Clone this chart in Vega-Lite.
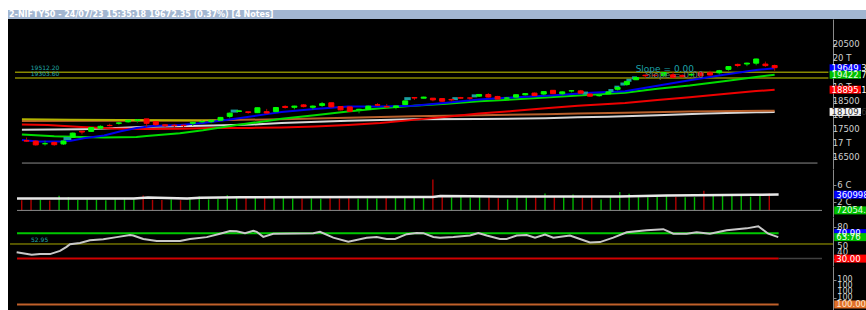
{
  "$schema": "https://vega.github.io/schema/vega-lite/v6.json",
  "background": "#ffffff",
  "padding": {"left": 8, "top": 10, "right": 0, "bottom": 0},
  "spacing": 0,
  "config": {
    "view": {"fill": "#000000", "stroke": null},
    "axis": {"grid": false, "domainColor": "#8a8a8a", "tickColor": "#8a8a8a", "tickSize": 3, "labels": false},
    "text": {"font": "DejaVu Sans"}
  },
  "datasets": {
    "daily": [
      {"i":0,"o":17097,"h":17205,"l":17045,"c":17077,"vol":24500000,"d":"d"},
      {"i":1,"o":17077,"h":17109,"l":16917,"c":16945,"vol":26000000,"d":"d"},
      {"i":2,"o":16985,"h":17091,"l":16919,"c":16986,"vol":25500000,"d":"u"},
      {"i":3,"o":17031,"h":17061,"l":16913,"c":16951,"vol":24000000,"d":"d"},
      {"i":4,"o":16977,"h":17126,"l":16940,"c":17081,"vol":35000000,"d":"u"},
      {"i":5,"o":17210,"h":17381,"l":17205,"c":17360,"vol":32000000,"d":"u"},
      {"i":6,"o":17428,"h":17428,"l":17313,"c":17398,"vol":25000000,"d":"u"},
      {"i":7,"o":17422,"h":17570,"l":17402,"c":17557,"vol":26500000,"d":"u"},
      {"i":8,"o":17533,"h":17638,"l":17503,"c":17599,"vol":25500000,"d":"u"},
      {"i":9,"o":17634,"h":17694,"l":17597,"c":17624,"vol":24500000,"d":"u"},
      {"i":10,"o":17705,"h":17749,"l":17655,"c":17722,"vol":26000000,"d":"u"},
      {"i":11,"o":17759,"h":17819,"l":17730,"c":17812,"vol":27000000,"d":"u"},
      {"i":12,"o":17807,"h":17842,"l":17729,"c":17828,"vol":26500000,"d":"u"},
      {"i":13,"o":17863,"h":17863,"l":17574,"c":17707,"vol":36000000,"d":"d"},
      {"i":14,"o":17767,"h":17767,"l":17610,"c":17660,"vol":25500000,"d":"d"},
      {"i":15,"o":17653,"h":17666,"l":17579,"c":17618,"vol":25000000,"d":"d"},
      {"i":16,"o":17638,"h":17684,"l":17553,"c":17624,"vol":26000000,"d":"u"},
      {"i":17,"o":17639,"h":17664,"l":17553,"c":17624,"vol":24500000,"d":"d"},
      {"i":18,"o":17707,"h":17754,"l":17612,"c":17743,"vol":27000000,"d":"u"},
      {"i":19,"o":17761,"h":17808,"l":17716,"c":17770,"vol":33500000,"d":"u"},
      {"i":20,"o":17767,"h":17827,"l":17711,"c":17813,"vol":26500000,"d":"u"},
      {"i":21,"o":17813,"h":17932,"l":17797,"c":17915,"vol":27500000,"d":"u"},
      {"i":22,"o":17950,"h":18089,"l":17885,"c":18065,"vol":36500000,"d":"u"},
      {"i":23,"o":18124,"h":18180,"l":18102,"c":18148,"vol":33500000,"d":"u"},
      {"i":24,"o":18113,"h":18117,"l":18042,"c":18090,"vol":31500000,"d":"d"},
      {"i":25,"o":18082,"h":18267,"l":18069,"c":18256,"vol":32000000,"d":"u"},
      {"i":26,"o":18117,"h":18216,"l":18055,"c":18069,"vol":31000000,"d":"d"},
      {"i":27,"o":18120,"h":18286,"l":18100,"c":18264,"vol":32000000,"d":"u"},
      {"i":28,"o":18303,"h":18344,"l":18228,"c":18266,"vol":34500000,"d":"u"},
      {"i":29,"o":18273,"h":18330,"l":18200,"c":18315,"vol":29000000,"d":"u"},
      {"i":30,"o":18357,"h":18389,"l":18270,"c":18297,"vol":28500000,"d":"d"},
      {"i":31,"o":18273,"h":18342,"l":18195,"c":18315,"vol":29000000,"d":"u"},
      {"i":32,"o":18339,"h":18458,"l":18287,"c":18399,"vol":28000000,"d":"u"},
      {"i":33,"o":18432,"h":18432,"l":18264,"c":18287,"vol":29500000,"d":"d"},
      {"i":34,"o":18300,"h":18309,"l":18162,"c":18181,"vol":28500000,"d":"d"},
      {"i":35,"o":18287,"h":18297,"l":18104,"c":18129,"vol":29000000,"d":"d"},
      {"i":36,"o":18187,"h":18218,"l":18060,"c":18203,"vol":28000000,"d":"u"},
      {"i":37,"o":18201,"h":18335,"l":18194,"c":18314,"vol":29000000,"d":"u"},
      {"i":38,"o":18362,"h":18419,"l":18324,"c":18348,"vol":28500000,"d":"u"},
      {"i":39,"o":18295,"h":18392,"l":18262,"c":18285,"vol":31500000,"d":"d"},
      {"i":40,"o":18268,"h":18338,"l":18202,"c":18321,"vol":32000000,"d":"u"},
      {"i":41,"o":18369,"h":18508,"l":18347,"c":18499,"vol":31500000,"d":"u"},
      {"i":42,"o":18619,"h":18621,"l":18530,"c":18599,"vol":31000000,"d":"u"},
      {"i":43,"o":18594,"h":18648,"l":18586,"c":18633,"vol":32000000,"d":"u"},
      {"i":44,"o":18594,"h":18603,"l":18483,"c":18534,"vol":74300000,"d":"d"},
      {"i":45,"o":18580,"h":18580,"l":18464,"c":18487,"vol":32000000,"d":"d"},
      {"i":46,"o":18551,"h":18573,"l":18478,"c":18534,"vol":31500000,"d":"u"},
      {"i":47,"o":18612,"h":18640,"l":18582,"c":18594,"vol":32000000,"d":"u"},
      {"i":48,"o":18600,"h":18622,"l":18531,"c":18599,"vol":31000000,"d":"u"},
      {"i":49,"o":18665,"h":18738,"l":18636,"c":18726,"vol":32000000,"d":"u"},
      {"i":50,"o":18725,"h":18778,"l":18615,"c":18635,"vol":31500000,"d":"d"},
      {"i":51,"o":18655,"h":18676,"l":18555,"c":18563,"vol":29000000,"d":"d"},
      {"i":52,"o":18596,"h":18633,"l":18559,"c":18602,"vol":26500000,"d":"u"},
      {"i":53,"o":18631,"h":18728,"l":18623,"c":18716,"vol":32000000,"d":"u"},
      {"i":54,"o":18713,"h":18769,"l":18690,"c":18756,"vol":31500000,"d":"u"},
      {"i":55,"o":18774,"h":18794,"l":18669,"c":18688,"vol":35000000,"d":"d"},
      {"i":56,"o":18741,"h":18840,"l":18690,"c":18826,"vol":41000000,"d":"u"},
      {"i":57,"o":18873,"h":18882,"l":18740,"c":18755,"vol":34500000,"d":"d"},
      {"i":58,"o":18752,"h":18839,"l":18696,"c":18817,"vol":32000000,"d":"u"},
      {"i":59,"o":18849,"h":18876,"l":18794,"c":18857,"vol":38000000,"d":"u"},
      {"i":60,"o":18853,"h":18886,"l":18759,"c":18771,"vol":31500000,"d":"d"},
      {"i":61,"o":18742,"h":18756,"l":18647,"c":18665,"vol":32000000,"d":"d"},
      {"i":62,"o":18682,"h":18722,"l":18646,"c":18691,"vol":26500000,"d":"u"},
      {"i":63,"o":18748,"h":18829,"l":18714,"c":18817,"vol":32000000,"d":"u"},
      {"i":64,"o":18908,"h":18974,"l":18861,"c":18972,"vol":44500000,"d":"u"},
      {"i":65,"o":19076,"h":19201,"l":19025,"c":19189,"vol":40000000,"d":"u"},
      {"i":66,"o":19246,"h":19345,"l":19234,"c":19322,"vol":32000000,"d":"u"},
      {"i":67,"o":19406,"h":19434,"l":19300,"c":19389,"vol":31500000,"d":"u"},
      {"i":68,"o":19405,"h":19434,"l":19346,"c":19398,"vol":32000000,"d":"u"},
      {"i":69,"o":19385,"h":19507,"l":19374,"c":19497,"vol":35000000,"d":"u"},
      {"i":70,"o":19422,"h":19524,"l":19300,"c":19332,"vol":32000000,"d":"d"},
      {"i":71,"o":19400,"h":19435,"l":19327,"c":19355,"vol":31500000,"d":"u"},
      {"i":72,"o":19414,"h":19472,"l":19361,"c":19439,"vol":32000000,"d":"u"},
      {"i":73,"o":19497,"h":19507,"l":19361,"c":19384,"vol":47500000,"d":"d"},
      {"i":74,"o":19495,"h":19567,"l":19385,"c":19413,"vol":39500000,"d":"u"},
      {"i":75,"o":19493,"h":19595,"l":19431,"c":19564,"vol":38000000,"d":"u"},
      {"i":76,"o":19612,"h":19731,"l":19562,"c":19711,"vol":38000000,"d":"u"},
      {"i":77,"o":19787,"h":19819,"l":19690,"c":19749,"vol":35000000,"d":"u"},
      {"i":78,"o":19802,"h":19851,"l":19727,"c":19833,"vol":33000000,"d":"u"},
      {"i":79,"o":19831,"h":19991,"l":19758,"c":19979,"vol":35000000,"d":"u"},
      {"i":80,"o":19800,"h":19887,"l":19700,"c":19745,"vol":41000000,"d":"d"},
      {"i":81,"o":19748,"h":19782,"l":19563,"c":19672,"vol":72054,"d":"d"}
    ],
    "ma": [
      {"s":"ma1","i":-0.5,"v":17116},{"s":"ma1","i":1.2,"v":17060},{"s":"ma1","i":3.6,"v":17060},{"s":"ma1","i":4.8,"v":17093},{"s":"ma1","i":6.2,"v":17175},{"s":"ma1","i":8.4,"v":17274},{"s":"ma1","i":10.2,"v":17423},{"s":"ma1","i":11.9,"v":17538},{"s":"ma1","i":13.7,"v":17611},{"s":"ma1","i":16.6,"v":17644},{"s":"ma1","i":19.1,"v":17719},{"s":"ma1","i":22.6,"v":17868},{"s":"ma1","i":26.2,"v":18040},{"s":"ma1","i":27.6,"v":18105},{"s":"ma1","i":31.2,"v":18214},{"s":"ma1","i":34.8,"v":18303},{"s":"ma1","i":38.3,"v":18303},{"s":"ma1","i":41.9,"v":18323},{"s":"ma1","i":45.5,"v":18435},{"s":"ma1","i":49.0,"v":18544},{"s":"ma1","i":52.6,"v":18620},{"s":"ma1","i":56.2,"v":18676},{"s":"ma1","i":57.6,"v":18709},{"s":"ma1","i":61.1,"v":18785},{"s":"ma1","i":64.8,"v":18841},{"s":"ma1","i":68.3,"v":19030},{"s":"ma1","i":71.8,"v":19225},{"s":"ma1","i":75.5,"v":19425},{"s":"ma1","i":79.0,"v":19590},{"s":"ma1","i":81,"v":19649},
      {"s":"ma2","i":-0.5,"v":17314},{"s":"ma2","i":3.0,"v":17248},{"s":"ma2","i":5.9,"v":17225},{"s":"ma2","i":8.4,"v":17202},{"s":"ma2","i":11.9,"v":17225},{"s":"ma2","i":13.0,"v":17260},{"s":"ma2","i":16.6,"v":17357},{"s":"ma2","i":19.1,"v":17460},{"s":"ma2","i":22.6,"v":17640},{"s":"ma2","i":26.2,"v":17800},{"s":"ma2","i":27.6,"v":17870},{"s":"ma2","i":31.2,"v":17993},{"s":"ma2","i":34.8,"v":18125},{"s":"ma2","i":38.3,"v":18237},{"s":"ma2","i":41.9,"v":18323},{"s":"ma2","i":45.5,"v":18402},{"s":"ma2","i":49.0,"v":18488},{"s":"ma2","i":52.6,"v":18544},{"s":"ma2","i":56.2,"v":18620},{"s":"ma2","i":59.7,"v":18686},{"s":"ma2","i":64.8,"v":18790},{"s":"ma2","i":68.3,"v":18930},{"s":"ma2","i":71.8,"v":19040},{"s":"ma2","i":75.5,"v":19190},{"s":"ma2","i":79.0,"v":19340},{"s":"ma2","i":81,"v":19423},
      {"s":"ma3","i":-0.5,"v":17663},{"s":"ma3","i":2.3,"v":17644},{"s":"ma3","i":5.9,"v":17580},{"s":"ma3","i":9.4,"v":17525},{"s":"ma3","i":13.0,"v":17505},{"s":"ma3","i":16.6,"v":17515},{"s":"ma3","i":20.2,"v":17540},{"s":"ma3","i":24.4,"v":17545},{"s":"ma3","i":27.6,"v":17560},{"s":"ma3","i":31.2,"v":17590},{"s":"ma3","i":34.8,"v":17644},{"s":"ma3","i":38.3,"v":17719},{"s":"ma3","i":41.9,"v":17828},{"s":"ma3","i":45.5,"v":17940},{"s":"ma3","i":49.0,"v":18049},{"s":"ma3","i":52.6,"v":18138},{"s":"ma3","i":56.2,"v":18237},{"s":"ma3","i":59.7,"v":18323},{"s":"ma3","i":64.8,"v":18420},{"s":"ma3","i":68.3,"v":18530},{"s":"ma3","i":71.8,"v":18630},{"s":"ma3","i":75.5,"v":18740},{"s":"ma3","i":79.0,"v":18845},{"s":"ma3","i":81,"v":18895},
      {"s":"ma4","i":-0.5,"v":17479},{"s":"ma4","i":5.9,"v":17499},{"s":"ma4","i":8.4,"v":17522},{"s":"ma4","i":13.0,"v":17588},{"s":"ma4","i":16.6,"v":17600},{"s":"ma4","i":20.2,"v":17630},{"s":"ma4","i":24.4,"v":17663},{"s":"ma4","i":27.6,"v":17719},{"s":"ma4","i":34.8,"v":17795},{"s":"ma4","i":41.9,"v":17851},{"s":"ma4","i":49.0,"v":17861},{"s":"ma4","i":56.2,"v":17884},{"s":"ma4","i":59.7,"v":17917},{"s":"ma4","i":62.9,"v":17940},{"s":"ma4","i":68.3,"v":17993},{"s":"ma4","i":73.6,"v":18049},{"s":"ma4","i":79.0,"v":18095},{"s":"ma4","i":81,"v":18110},
      {"s":"ma5","i":-0.5,"v":17790},{"s":"ma5","i":10,"v":17795},{"s":"ma5","i":19.1,"v":17808},{"s":"ma5","i":27.6,"v":17851},{"s":"ma5","i":34.8,"v":17907},{"s":"ma5","i":41.9,"v":17960},{"s":"ma5","i":49.0,"v":17993},{"s":"ma5","i":56.2,"v":18026},{"s":"ma5","i":59.7,"v":18049},{"s":"ma5","i":64.8,"v":18082},{"s":"ma5","i":71.8,"v":18125},{"s":"ma5","i":81,"v":18150},
      {"s":"ma6","i":-0.5,"v":17851},{"s":"ma6","i":4.8,"v":17830},{"s":"ma6","i":15.5,"v":17818},{"s":"ma6","i":20.5,"v":17805}
    ],
    "cyan": [
      {"a":4.0,"b":4.85,"v":17169},{"a":22.1,"b":22.9,"v":18138},{"a":40.9,"b":41.6,"v":18577},{"a":46.1,"b":46.7,"v":18577},{"a":48.2,"b":48.8,"v":18676},{"a":60.2,"b":60.8,"v":18775},{"a":63.0,"b":63.55,"v":18864},{"a":63.65,"b":64.2,"v":18983},{"a":64.3,"b":64.85,"v":19095},{"a":64.95,"b":65.5,"v":19227},{"a":65.55,"b":66.1,"v":19312}
    ],
    "vma": [
      {"i":-0.5,"v":28600000},{"i":12,"v":28600000},{"i":13.5,"v":31000000},{"i":17.7,"v":28600000},{"i":19.1,"v":30500000},{"i":23.4,"v":31800000},{"i":39.4,"v":32400000},{"i":44,"v":32400000},{"i":44.8,"v":34900000},{"i":51.2,"v":33700000},{"i":64,"v":33700000},{"i":69,"v":36000000},{"i":78.3,"v":37500000},{"i":81,"v":38000000}
    ],
    "rsi": [
      {"i":-0.54,"r":40},{"i":1.07,"r":35.9},{"i":1.96,"r":37.1},{"i":3.03,"r":37.1},{"i":4.1,"r":42.1},{"i":4.8,"r":48.4},{"i":5.17,"r":52.5},{"i":6.24,"r":54.6},{"i":7.3,"r":58.75},{"i":8.73,"r":60.4},{"i":10.17,"r":63.75},{"i":11.59,"r":67.1},{"i":11.94,"r":66.25},{"i":13.01,"r":60.9},{"i":14.45,"r":57.5},{"i":16.94,"r":57.5},{"i":18.01,"r":60.9},{"i":19.8,"r":63.75},{"i":21.22,"r":69.1},{"i":22.29,"r":73.4},{"i":23.0,"r":72.9},{"i":23.9,"r":70},{"i":24.78,"r":73.75},{"i":25.15,"r":72.1},{"i":25.85,"r":64.1},{"i":26.92,"r":69.1},{"i":31.2,"r":70},{"i":31.92,"r":72.1},{"i":33.34,"r":62.9},{"i":34.95,"r":56.6},{"i":36.92,"r":62.9},{"i":37.99,"r":64.1},{"i":39.06,"r":60.9},{"i":39.95,"r":60.9},{"i":41.2,"r":68.4},{"i":42.27,"r":70.4},{"i":42.97,"r":70},{"i":44.05,"r":64.1},{"i":44.76,"r":62.9},{"i":46.19,"r":64.1},{"i":47.97,"r":66.25},{"i":48.86,"r":70},{"i":49.76,"r":66.25},{"i":51.18,"r":60.9},{"i":51.9,"r":60.9},{"i":52.97,"r":66.25},{"i":54.04,"r":67.1},{"i":54.93,"r":62.9},{"i":56.0,"r":67.9},{"i":56.89,"r":62.9},{"i":58.67,"r":66.25},{"i":59.74,"r":60.9},{"i":60.81,"r":55.4},{"i":61.88,"r":55.9},{"i":63.31,"r":62.9},{"i":64.74,"r":71.25},{"i":66.88,"r":74.6},{"i":68.66,"r":76.25},{"i":69.73,"r":69.1},{"i":71.16,"r":69.1},{"i":72.23,"r":71.25},{"i":73.65,"r":69.1},{"i":75.44,"r":74.6},{"i":77.58,"r":77.5},{"i":78.82,"r":80.9},{"i":79.89,"r":69.1},{"i":80.96,"r":63.76}
    ]
  },
  "vconcat": [
    {
      "width": 858, "height": 9,
      "view": {"fill": "#a2b6d1", "stroke": null},
      "data": {"values": [{"t": "2-NIFTY50 - 24/07/23 15:35:18 19672.35 (0.37%) [4 Notes]"}]},
      "mark": {"type": "text", "align": "left", "baseline": "middle", "color": "#ffffff", "fontSize": 8, "fontWeight": "bold", "dx": 1},
      "encoding": {
        "x": {"datum": 0, "type": "quantitative", "scale": {"domain": [0, 858], "nice": false, "zero": false}, "axis": null},
        "y": {"datum": 0.5, "type": "quantitative", "scale": {"domain": [0, 1], "nice": false, "zero": false}, "axis": null},
        "text": {"field": "t"}
      }
    },
    {
      "width": 858, "height": 150,
      "layer": [
        {
          "data": {"values": [{"v": 19512.2}, {"v": 19303.6}]},
          "mark": {"type": "rule", "color": "#8a8a00", "strokeWidth": 1.5},
          "encoding": {
            "x": {"datum": -1.25, "type": "quantitative", "scale": {"domain": [-1.466, 90.35], "nice": false, "zero": false}, "axis": null},
            "x2": {"datum": 86.82},
            "y": {"field": "v", "type": "quantitative", "title": null, "scale": {"domain": [16268.7, 21215.7], "nice": false, "zero": false},
                  "axis": {"orient": "right", "offset": -33, "labels": false, "values": [16500, 17000, 17500, 18000, 18500, 19000, 19500, 20000, 20500]}}
          }
        },
        {
          "data": {"name": "ma"}, "transform": [{"filter": "datum.s == 'ma4'"}],
          "mark": {"type": "line", "color": "#d8d8d8", "strokeWidth": 2},
          "encoding": {"x": {"field": "i", "type": "quantitative", "axis": null}, "y": {"field": "v", "type": "quantitative", "title": null}}
        },
        {
          "data": {"name": "ma"}, "transform": [{"filter": "datum.s == 'ma5'"}],
          "mark": {"type": "line", "color": "#b8602c", "strokeWidth": 2},
          "encoding": {"x": {"field": "i", "type": "quantitative", "axis": null}, "y": {"field": "v", "type": "quantitative", "title": null}}
        },
        {
          "data": {"name": "ma"}, "transform": [{"filter": "datum.s == 'ma6'"}],
          "mark": {"type": "line", "color": "#b4b400", "strokeWidth": 2},
          "encoding": {"x": {"field": "i", "type": "quantitative", "axis": null}, "y": {"field": "v", "type": "quantitative", "title": null}}
        },
        {
          "data": {"name": "ma"}, "transform": [{"filter": "datum.s == 'ma3'"}],
          "mark": {"type": "line", "color": "#ee0000", "strokeWidth": 2},
          "encoding": {"x": {"field": "i", "type": "quantitative", "axis": null}, "y": {"field": "v", "type": "quantitative", "title": null}}
        },
        {
          "data": {"name": "ma"}, "transform": [{"filter": "datum.s == 'ma2'"}],
          "mark": {"type": "line", "color": "#00dd00", "strokeWidth": 2},
          "encoding": {"x": {"field": "i", "type": "quantitative", "axis": null}, "y": {"field": "v", "type": "quantitative", "title": null}}
        },
        {
          "data": {"name": "ma"}, "transform": [{"filter": "datum.s == 'ma1'"}],
          "mark": {"type": "line", "color": "#0000ee", "strokeWidth": 2},
          "encoding": {"x": {"field": "i", "type": "quantitative", "axis": null}, "y": {"field": "v", "type": "quantitative", "title": null}}
        },
        {
          "data": {"name": "cyan"},
          "mark": {"type": "rule", "color": "#1aa0a0", "strokeWidth": 3},
          "encoding": {"x": {"field": "a", "type": "quantitative", "axis": null}, "x2": {"field": "b"}, "y": {"field": "v", "type": "quantitative", "title": null}}
        },
        {
          "data": {"name": "daily"},
          "mark": {"type": "rule", "strokeWidth": 1},
          "encoding": {
            "x": {"field": "i", "type": "quantitative", "axis": null},
            "y": {"field": "l", "type": "quantitative", "title": null},
            "y2": {"field": "h"},
            "color": {"condition": {"test": "datum.c >= datum.o", "value": "#00a800"}, "value": "#b00000"}
          }
        },
        {
          "data": {"name": "daily"},
          "mark": {"type": "bar", "size": 5, "strokeWidth": 1},
          "encoding": {
            "x": {"field": "i", "type": "quantitative", "axis": null},
            "y": {"field": "o", "type": "quantitative", "title": null},
            "y2": {"field": "c"},
            "fill": {"condition": {"test": "datum.c >= datum.o", "value": "#00ff00"}, "value": "#ff0000"},
            "stroke": {"condition": {"test": "datum.c >= datum.o", "value": "#00ff00"}, "value": "#ff0000"}
          }
        },
        {
          "data": {"values": [{"v": 16302}]},
          "mark": {"type": "rule", "color": "#8a8a8a", "strokeWidth": 1},
          "encoding": {"x": {"datum": -0.5, "type": "quantitative", "axis": null}, "x2": {"datum": 85.64}, "y": {"field": "v", "type": "quantitative", "title": null}}
        },
        {
          "data": {"values": [{"t": "19512.20", "i": 0.46, "v": 19675}, {"t": "19303.60", "i": 0.46, "v": 19458}]},
          "mark": {"type": "text", "align": "left", "baseline": "middle", "fontSize": 6, "color": "#20a8a8"},
          "encoding": {"x": {"field": "i", "type": "quantitative", "axis": null}, "y": {"field": "v", "type": "quantitative", "title": null}, "text": {"field": "t"}}
        },
        {
          "data": {"values": [{"t": "Slope = 0.00", "i": 65.95, "v": 19642}]},
          "mark": {"type": "text", "align": "left", "baseline": "middle", "fontSize": 9, "color": "#1ca0a8"},
          "encoding": {"x": {"field": "i", "type": "quantitative", "axis": null}, "y": {"field": "v", "type": "quantitative", "title": null}, "text": {"field": "t"}}
        },
        {
          "data": {"values": [{"t": "Slope = 0.00", "i": 67.0, "v": 19425}]},
          "mark": {"type": "text", "align": "left", "baseline": "middle", "fontSize": 9, "color": "#5a7474"},
          "encoding": {"x": {"field": "i", "type": "quantitative", "axis": null}, "y": {"field": "v", "type": "quantitative", "title": null}, "text": {"field": "t"}}
        },
        {
          "data": {"values": [{"v": 20500, "t": "20500"}, {"v": 20000, "t": "20 T"}, {"v": 19000, "t": "19 T"}, {"v": 18500, "t": "18500"}, {"v": 18000, "t": "18 T"}, {"v": 17500, "t": "17500"}, {"v": 17000, "t": "17 T"}, {"v": 16500, "t": "16500"}]},
          "mark": {"type": "text", "align": "left", "baseline": "middle", "fontSize": 8.5, "color": "#d0d0d0", "clip": true},
          "encoding": {"x": {"datum": 87.28, "type": "quantitative", "axis": null}, "y": {"field": "v", "type": "quantitative", "title": null}, "text": {"field": "t"}}
        },
        {
          "data": {"values": [{"s": "a", "v": 19649.35, "t": "19649.35"}, {"s": "b", "v": 19422.75, "t": "19422.75"}, {"s": "c", "v": 18895.1, "t": "18895.10"}, {"s": "d", "v": 18109.6, "t": "18109.60"}]},
          "layer": [
            {
              "mark": {"type": "bar", "orient": "horizontal", "size": 8, "clip": true},
              "encoding": {
                "x": {"datum": 86.95, "type": "quantitative", "axis": null}, "x2": {"datum": 90.35},
                "y": {"field": "v", "type": "quantitative", "title": null},
                "fill": {"field": "s", "type": "nominal", "scale": {"domain": ["a", "b", "c", "d"], "range": ["#0000ff", "#00c000", "#ff0000", "#f4f4f4"]}, "legend": null}
              }
            },
            {
              "mark": {"type": "text", "align": "left", "baseline": "middle", "fontSize": 8.5, "dx": 2, "clip": true},
              "encoding": {
                "x": {"datum": 86.95, "type": "quantitative", "axis": null},
                "y": {"field": "v", "type": "quantitative", "title": null},
                "text": {"field": "t"},
                "color": {"field": "s", "type": "nominal", "scale": {"domain": ["a", "b", "c", "d"], "range": ["#ffffff", "#e8ffe8", "#ffffff", "#303030"]}, "legend": null}
              }
            }
          ]
        }
      ]
    },
    {
      "width": 858, "height": 48,
      "layer": [
        {
          "data": {"name": "daily"},
          "mark": {"type": "rule", "strokeWidth": 1.4},
          "encoding": {
            "x": {"field": "i", "type": "quantitative", "scale": {"domain": [-1.466, 90.35], "nice": false, "zero": false}, "axis": null},
            "y": {"field": "vol", "type": "quantitative", "title": null, "scale": {"domain": [-3810000, 87620000], "nice": false, "zero": false},
                  "axis": {"orient": "right", "offset": -33, "labels": false, "values": [20000000, 40000000, 60000000]}},
            "y2": {"datum": 0},
            "color": {"condition": {"test": "datum.d == 'u'", "value": "#00b400"}, "value": "#b00000"}
          }
        },
        {
          "data": {"values": [{"v": 0}]},
          "mark": {"type": "rule", "color": "#8a8a8a", "strokeWidth": 1},
          "encoding": {"x": {"datum": -0.5, "type": "quantitative", "axis": null}, "x2": {"datum": 85.64}, "y": {"field": "v", "type": "quantitative", "title": null}}
        },
        {
          "data": {"name": "vma"},
          "mark": {"type": "line", "color": "#e8e8e8", "strokeWidth": 2.5},
          "encoding": {"x": {"field": "i", "type": "quantitative", "axis": null}, "y": {"field": "v", "type": "quantitative", "title": null}}
        },
        {
          "data": {"values": [{"v": 60000000, "t": "6 C"}, {"v": 20000000, "t": "2 C"}]},
          "mark": {"type": "text", "align": "left", "baseline": "middle", "fontSize": 8.5, "color": "#d0d0d0", "clip": true},
          "encoding": {"x": {"datum": 87.28, "type": "quantitative", "axis": null}, "y": {"field": "v", "type": "quantitative", "title": null}, "text": {"field": "t"}}
        },
        {
          "data": {"values": [{"s": "a", "v": 38000000, "t": "36099860"}, {"s": "b", "v": 72054, "t": "72054.00"}]},
          "layer": [
            {
              "mark": {"type": "bar", "orient": "horizontal", "size": 8, "clip": true},
              "encoding": {
                "x": {"datum": 86.95, "type": "quantitative", "axis": null}, "x2": {"datum": 90.35},
                "y": {"field": "v", "type": "quantitative", "title": null},
                "fill": {"field": "s", "type": "nominal", "scale": {"domain": ["a", "b"], "range": ["#f4f4f4", "#00c000"]}, "legend": null}
              }
            },
            {
              "mark": {"type": "text", "align": "left", "baseline": "middle", "fontSize": 8.5, "dx": 2, "clip": true},
              "encoding": {
                "x": {"datum": 86.95, "type": "quantitative", "axis": null},
                "y": {"field": "v", "type": "quantitative", "title": null},
                "text": {"field": "t"},
                "color": {"field": "s", "type": "nominal", "scale": {"domain": ["a", "b"], "range": ["#303030", "#e8ffe8"]}, "legend": null}
              }
            }
          ]
        }
      ]
    },
    {
      "width": 858, "height": 49,
      "layer": [
        {
          "data": {"values": [{"v": 52.95}]},
          "mark": {"type": "rule", "color": "#a8a800", "strokeWidth": 1},
          "encoding": {
            "x": {"datum": -1.25, "type": "quantitative", "scale": {"domain": [-1.466, 90.35], "nice": false, "zero": false}, "axis": null},
            "x2": {"datum": 86.82},
            "y": {"field": "v", "type": "quantitative", "title": null, "scale": {"domain": [26.25, 87.5], "nice": false, "zero": false},
                  "axis": {"orient": "right", "offset": -33, "labels": false, "values": [30, 40, 50, 60, 70, 80]}}
          }
        },
        {
          "data": {"values": [{"v": 30}]},
          "mark": {"type": "rule", "color": "#404040", "strokeWidth": 1.5},
          "encoding": {"x": {"datum": 81, "type": "quantitative", "axis": null}, "x2": {"datum": 85.64}, "y": {"field": "v", "type": "quantitative", "title": null}}
        },
        {
          "data": {"values": [{"v": 70, "k": "hi"}, {"v": 30, "k": "lo"}]},
          "mark": {"type": "rule", "strokeWidth": 2},
          "encoding": {
            "x": {"datum": -0.5, "type": "quantitative", "axis": null}, "x2": {"datum": 81},
            "y": {"field": "v", "type": "quantitative", "title": null},
            "color": {"condition": {"test": "datum.k == 'hi'", "value": "#00c800"}, "value": "#d00000"}
          }
        },
        {
          "data": {"name": "rsi"},
          "mark": {"type": "line", "color": "#c8c8c8", "strokeWidth": 2},
          "encoding": {"x": {"field": "i", "type": "quantitative", "axis": null}, "y": {"field": "r", "type": "quantitative", "title": null}}
        },
        {
          "data": {"values": [{"t": "52.95", "i": 1.0, "v": 59.1}]},
          "mark": {"type": "text", "align": "left", "baseline": "middle", "fontSize": 6, "color": "#20a8a8"},
          "encoding": {"x": {"field": "i", "type": "quantitative", "axis": null}, "y": {"field": "v", "type": "quantitative", "title": null}, "text": {"field": "t"}}
        },
        {
          "data": {"values": [{"v": 80, "t": "80"}, {"v": 50, "t": "50"}, {"v": 40, "t": "40"}]},
          "mark": {"type": "text", "align": "left", "baseline": "middle", "fontSize": 8.5, "color": "#d0d0d0", "clip": true},
          "encoding": {"x": {"datum": 87.28, "type": "quantitative", "axis": null}, "y": {"field": "v", "type": "quantitative", "title": null}, "text": {"field": "t"}}
        },
        {
          "data": {"values": [{"s": "a", "v": 70, "t": "70.00"}, {"s": "b", "v": 63.76, "t": "63.76"}, {"s": "c", "v": 30, "t": "30.00"}]},
          "layer": [
            {
              "mark": {"type": "bar", "orient": "horizontal", "size": 8, "clip": true},
              "encoding": {
                "x": {"datum": 86.95, "type": "quantitative", "axis": null}, "x2": {"datum": 90.35},
                "y": {"field": "v", "type": "quantitative", "title": null},
                "fill": {"field": "s", "type": "nominal", "scale": {"domain": ["a", "b", "c"], "range": ["#00c000", "#f4f4f4", "#ff0000"]}, "legend": null}
              }
            },
            {
              "mark": {"type": "text", "align": "left", "baseline": "middle", "fontSize": 8.5, "dx": 2, "clip": true},
              "encoding": {
                "x": {"datum": 86.95, "type": "quantitative", "axis": null},
                "y": {"field": "v", "type": "quantitative", "title": null},
                "text": {"field": "t"},
                "color": {"field": "s", "type": "nominal", "scale": {"domain": ["a", "b", "c"], "range": ["#e8ffe8", "#707070", "#ffffff"]}, "legend": null}
              }
            }
          ]
        }
      ]
    },
    {
      "width": 858, "height": 44,
      "layer": [
        {
          "data": {"values": [{"v": 100}]},
          "mark": {"type": "rule", "color": "#c0602a", "strokeWidth": 2},
          "encoding": {
            "x": {"datum": -0.5, "type": "quantitative", "scale": {"domain": [-1.466, 90.35], "nice": false, "zero": false}, "axis": null},
            "x2": {"datum": 81},
            "y": {"field": "v", "type": "quantitative", "title": null, "scale": {"domain": [99.989, 100.698], "nice": false, "zero": false},
                  "axis": {"orient": "right", "offset": -33, "labels": false, "values": [100.125, 100.25, 100.375, 100.5]}}
          }
        },
        {
          "data": {"values": [{"v": 100.5, "t": "100"}, {"v": 100.375, "t": "100"}, {"v": 100.25, "t": "100"}, {"v": 100.125, "t": "100"}]},
          "mark": {"type": "text", "align": "left", "baseline": "middle", "fontSize": 8, "color": "#d0d0d0", "clip": true},
          "encoding": {"x": {"datum": 87.28, "type": "quantitative", "axis": null}, "y": {"field": "v", "type": "quantitative", "title": null}, "text": {"field": "t"}}
        },
        {
          "data": {"values": [{"v": 100, "t": "100.00"}]},
          "layer": [
            {
              "mark": {"type": "bar", "orient": "horizontal", "size": 8, "color": "#e0702a", "clip": true},
              "encoding": {"x": {"datum": 86.95, "type": "quantitative", "axis": null}, "x2": {"datum": 90.35}, "y": {"field": "v", "type": "quantitative", "title": null}}
            },
            {
              "mark": {"type": "text", "align": "left", "baseline": "middle", "fontSize": 8.5, "dx": 2, "color": "#ffe8d0", "clip": true},
              "encoding": {"x": {"datum": 86.95, "type": "quantitative", "axis": null}, "y": {"field": "v", "type": "quantitative", "title": null}, "text": {"field": "t"}}
            }
          ]
        }
      ]
    }
  ]
}
